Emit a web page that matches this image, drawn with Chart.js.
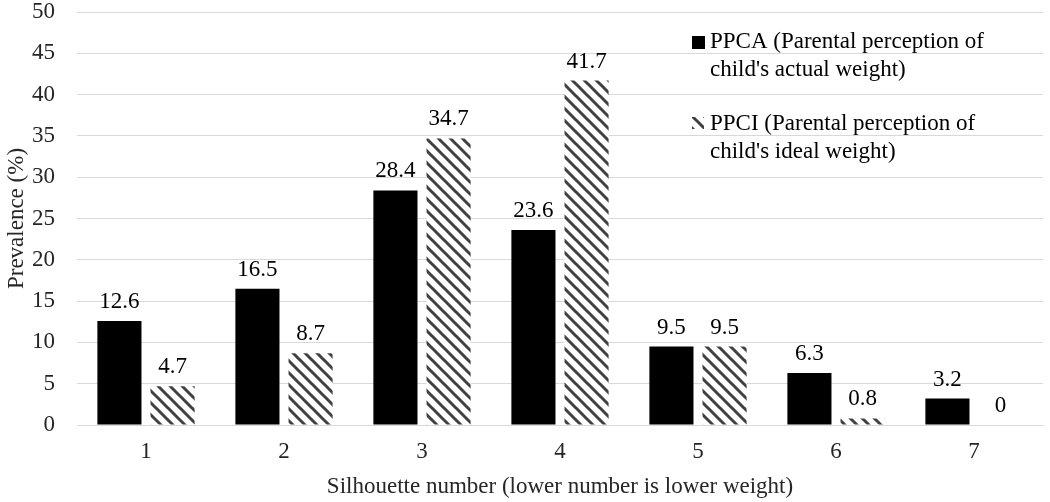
<!DOCTYPE html>
<html>
<head>
<meta charset="utf-8">
<script src="https://cdn.jsdelivr.net/npm/chart.js@4/dist/chart.umd.min.js"></script>
<style>
  html, body { margin: 0; padding: 0; background: #fff; }
</style>
</head>
<body>
<canvas id="grafico" width="1050" height="502"></canvas>
<script>
const silhuetas = ['1', '2', '3', '4', '5', '6', '7'];
const ppca = [12.6, 16.5, 28.4, 23.6, 9.5, 6.3, 3.2];
const ppci = [4.7, 8.7, 34.7, 41.7, 9.5, 0.8, 0];
const legendaPPCA = ["PPCA (Parental perception of", "child's actual weight)"];
const legendaPPCI = ["PPCI (Parental perception of", "child's ideal weight)"];
const eixoY = { min: 0, max: 50, passo: 5 };

const fonte = '"Liberation Serif", "Times New Roman", serif';
const tam = 23;

function criarHachura() {
    const s = 12;
    const c = document.createElement('canvas');
    c.width = s;
    c.height = s;
    const g = c.getContext('2d');
    g.fillStyle = '#fff';
    g.fillRect(0, 0, s, s);
    g.strokeStyle = '#404040';
    g.lineWidth = 3;
    for (let k = -1; k <= 1; k++) {
        g.beginPath();
        g.moveTo(k * s - 2, -2);
        g.lineTo(k * s + s + 2, s + 2);
        g.stroke();
    }
    return g.createPattern(c, 'repeat');
}

const hachura = criarHachura();

// valores acima das barras
const rotulos = {
    id: 'rotulos',
    afterDatasetsDraw(chart) {
        const ctx = chart.ctx;
        ctx.save();
        ctx.font = tam + 'px ' + fonte;
        ctx.fillStyle = '#000';
        ctx.textAlign = 'center';
        ctx.textBaseline = 'alphabetic';
        chart.data.datasets.forEach((ds, i) => {
            chart.getDatasetMeta(i).data.forEach((bar, j) => {
                ctx.fillText(String(ds.data[j]), bar.x, bar.y - 13);
            });
        });
        ctx.restore();
    }
};

// legenda desenhada por cima da area do grafico, como no original
const legenda = {
    id: 'legendaManual',
    afterDraw(chart) {
        const ctx = chart.ctx;
        ctx.save();
        ctx.font = tam + 'px ' + fonte;
        ctx.fillStyle = '#000';
        ctx.textAlign = 'left';
        ctx.textBaseline = 'middle';

        ctx.fillRect(692, 36, 13, 13);
        ctx.fillText(legendaPPCA[0], 710, 42);
        ctx.fillText(legendaPPCA[1], 710, 70);

        ctx.fillStyle = hachura;
        ctx.fillRect(692, 117, 12, 12);
        ctx.fillStyle = '#000';
        ctx.fillText(legendaPPCI[0], 710, 124);
        ctx.fillText(legendaPPCI[1], 710, 152);
        ctx.restore();
    }
};

const ctx = document.getElementById('grafico').getContext('2d');
const grafico = new Chart(ctx, {
    type: 'bar',
    data: {
        labels: silhuetas,
        datasets: [{
            label: legendaPPCA.join(' '),
            data: ppca,
            backgroundColor: '#000',
            barPercentage: 0.83,
            categoryPercentage: 0.77
        }, {
            label: legendaPPCI.join(' '),
            data: ppci,
            backgroundColor: hachura,
            barPercentage: 0.83,
            categoryPercentage: 0.77
        }]
    },
    options: {
        responsive: false,
        animation: false,
        layout: { padding: { top: 12, right: 7, left: 0, bottom: 0 } },
        plugins: {
            legend: { display: false },
            tooltip: { enabled: false }
        },
        scales: {
            x: {
                grid: { display: false, drawTicks: false },
                border: { display: true, color: '#d9d9d9' },
                ticks: { color: '#262626', font: { family: fonte, size: tam }, padding: 13 },
                title: {
                    display: true,
                    text: 'Silhouette number (lower number is lower weight)',
                    color: '#262626',
                    font: { family: fonte, size: tam },
                    padding: { top: 1, bottom: 1 }
                },
                afterFit(scale) {
                    scale.height = 77;
                    scale.paddingLeft = 0;
                    scale.paddingRight = 0;
                }
            },
            y: {
                min: eixoY.min,
                max: eixoY.max,
                grid: { color: '#d9d9d9', drawTicks: false },
                border: { display: false },
                ticks: {
                    stepSize: eixoY.passo,
                    color: '#262626',
                    font: { family: fonte, size: tam },
                    padding: 22
                },
                title: {
                    display: true,
                    text: 'Prevalence (%)',
                    color: '#262626',
                    font: { family: fonte, size: tam },
                    padding: { top: 3, bottom: 3 }
                },
                afterFit(scale) {
                    scale.width = 77;
                    scale.paddingTop = 0;
                    scale.paddingBottom = 0;
                }
            }
        }
    },
    plugins: [rotulos, legenda]
});
</script>
</body>
</html>
